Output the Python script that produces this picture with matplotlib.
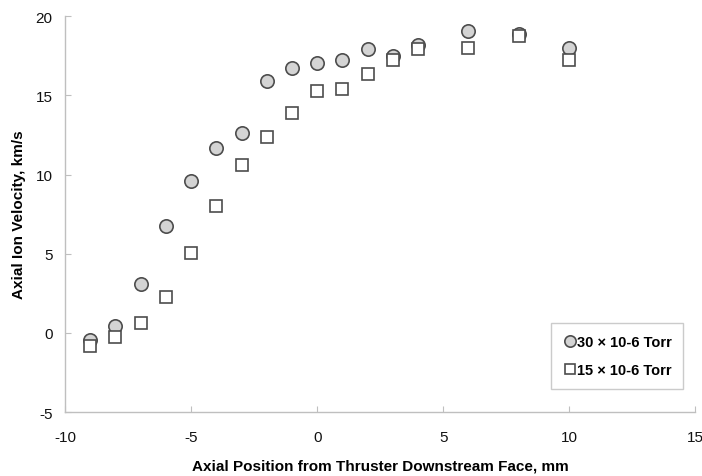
import matplotlib
matplotlib.use("Agg")
import matplotlib.pyplot as plt

plt.rcParams['font.family'] = ['Liberation Sans', 'DejaVu Sans']
plt.rcParams['axes.unicode_minus'] = False

position_mm = [-9, -8, -7, -6, -5, -4, -3, -2, -1, 0, 1, 2, 3, 4, 6, 8, 10]
velocity_30 = [-0.42, 0.46, 3.08, 6.72, 9.57, 11.65, 12.6, 15.93, 16.7, 17.05,
               17.24, 17.9, 17.5, 18.15, 19.08, 18.9, 17.99]
velocity_15 = [-0.8, -0.27, 0.61, 2.29, 5.04, 8.02, 10.62, 12.36, 13.9, 15.3,
               15.4, 16.33, 17.25, 17.95, 17.99, 18.72, 17.24]
labels = ["30 \u00d7 10-6 Torr", "15 \u00d7 10-6 Torr"]

fig = plt.figure(figsize=(7.02, 4.77), dpi=100)
ax = fig.add_axes([0.0926, 0.134, 0.898, 0.830])

edge = '#4d4d4d'
ax.plot(position_mm, velocity_30, linestyle='none', marker='o', markersize=9.6,
        markerfacecolor='#d4d4d4', markeredgecolor=edge, markeredgewidth=1.2,
        label=labels[0], zorder=3)
ax.plot(position_mm, velocity_15, linestyle='none', marker='s', markersize=9.2,
        markerfacecolor='white', markeredgecolor=edge, markeredgewidth=1.2,
        label=labels[1], zorder=4)

ax.set_xlim(-10, 15)
ax.set_ylim(-5, 20)
ax.set_xticks(range(-10, 16, 5))
ax.set_yticks(range(-5, 21, 5))

for side in ('top', 'right'):
    ax.spines[side].set_visible(False)
for side in ('left', 'bottom'):
    ax.spines[side].set_color('#bfbfbf')
    ax.spines[side].set_linewidth(1.0)
ax.tick_params(direction='in', length=4, color='#bfbfbf', labelsize=11,
               labelcolor='#111111')
ax.tick_params(axis='x', pad=13)
ax.tick_params(axis='y', pad=9)

ax.set_xlabel('Axial Position from Thruster Downstream Face, mm',
              fontsize=11, fontweight='bold', labelpad=10)
ax.set_ylabel('Axial Ion Velocity, km/s', fontsize=11, fontweight='bold',
              labelpad=7)

leg = ax.legend(loc='lower right', bbox_to_anchor=(0.981, 0.058),
                prop={'weight': 'bold', 'size': 10.5}, frameon=True,
                fancybox=False, edgecolor='#bfbfbf', handletextpad=0.0,
                handlelength=1.0, labelspacing=1.0, borderpad=0.8,
                borderaxespad=0.0, markerscale=0.85)
leg.get_frame().set_linewidth(1.0)

fig.savefig('out.png', dpi=100)
